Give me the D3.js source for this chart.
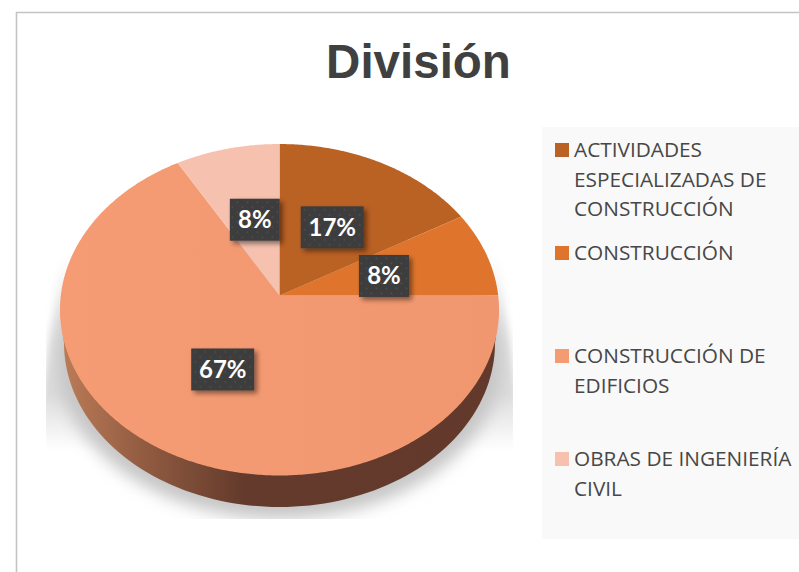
<!DOCTYPE html>
<html><head><meta charset="utf-8">
<script src="https://cdn.jsdelivr.net/npm/d3@7"></script>
<style>html,body{margin:0;padding:0;background:#fff}svg{display:block}</style>
</head><body><div id="chart"></div>
<script>
const chartTitle = "División";
const categories = ["ACTIVIDADES ESPECIALIZADAS DE CONSTRUCCIÓN","CONSTRUCCIÓN","CONSTRUCCIÓN DE EDIFICIOS","OBRAS DE INGENIERÍA CIVIL"];
const legendLines = [["ACTIVIDADES","ESPECIALIZADAS DE","CONSTRUCCIÓN"],["CONSTRUCCIÓN"],["CONSTRUCCIÓN DE","EDIFICIOS"],["OBRAS DE INGENIERÍA","CIVIL"]];
const values = [2,1,8,1];
const colors = ["#BA6124","#DF752D","#F49B72","#F6C2AF"];

const W=799,H=572;
const svg=d3.select("#chart").append("svg").attr("width",W).attr("height",H);
const defs=svg.append("defs");
const labelNudge=[[0,0.5],[0,1.5],[0,0],[2.5,0.5]];

// perspective disc
const apex={x:279.5,y:295.5}, k=0.086, sx=218.7, sy=164.5;
const project=(r,a)=>{const u=r*Math.sin(a),v=-r*Math.cos(a),w=1-k*v;return [apex.x+sx*u/w,apex.y+sy*v/w];};
const pie=d3.pie().value(d=>d).sort(null);
const arcs=pie(values);
const centroid=d3.arc().innerRadius(0).outerRadius(1);
const line=d3.line();
const fmt=d3.format(".0%");
const total=d3.sum(values);

// frame
svg.append("path").attr("d",`M${W},12.5H16.5V${H}`).attr("fill","none").attr("stroke","#c4c4c4").attr("stroke-width",1.6);

// title
svg.append("text").attr("x",418.5).attr("y",78).attr("text-anchor","middle")
 .attr("font-family","Liberation Sans").attr("font-weight",700).attr("font-size",47.5).attr("fill","#404040").text(chartTitle);

// legend panel
svg.append("rect").attr("x",542).attr("y",127).attr("width",W-542).attr("height",412).attr("fill","#f9f9f9");
const legendY=d3.scalePoint().domain(categories).range([150,459]);
const lg=svg.selectAll("g.lg").data(categories).join("g").attr("class","lg").attr("transform",d=>`translate(555,${legendY(d)})`);
lg.append("rect").attr("y",-7).attr("width",14).attr("height",14).attr("fill",(d,i)=>colors[i]);
lg.each(function(d,i){
  d3.select(this).selectAll("text").data(legendLines[i]).join("text")
   .attr("x",19).attr("y",(t,j)=>7+j*29.7)
   .attr("font-family","Open Sans").attr("font-size",20.8).attr("fill","#474747").text(t=>t);
});

// shadow
const blurF=defs.append("filter").attr("id","blur").attr("x","-20%").attr("y","-20%").attr("width","140%").attr("height","140%");
blurF.append("feGaussianBlur").attr("stdDeviation",8);
const blurS=defs.append("filter").attr("id","blurS").attr("x","-20%").attr("y","-20%").attr("width","140%").attr("height","140%");
blurS.append("feGaussianBlur").attr("stdDeviation",3);
const wedgeGrad=defs.append("linearGradient").attr("id","wedge").attr("x1",0).attr("x2",0).attr("y1",0).attr("y2",1);
[[0,"#ffffff"],[0.45,"#e2e2e2"],[0.7,"#dadada"],[1,"#ffffff"]].forEach(s=>wedgeGrad.append("stop").attr("offset",s[0]).attr("stop-color",s[1]));
defs.append("clipPath").attr("id","shClip").append("rect").attr("x",46).attr("y",240).attr("width",467).attr("height",279);
const sg=svg.append("g").attr("clip-path","url(#shClip)");
sg.append("path").attr("d",line([[60,255],[42,400],[42,450],[517,450],[517,400],[499,255]])+"Z").attr("fill","url(#wedge)").attr("filter","url(#blurS)");
const shadowPts=d3.range(0,361,3).map(d=>d*Math.PI/180).map(a=>[279.5+223*Math.cos(a),356+163*Math.sin(a)]);
sg.append("path").attr("d",line(shadowPts)+"Z").attr("fill","#c6c6c6").attr("filter","url(#blur)");

// wall
const wallGrad=defs.append("linearGradient").attr("id","wall").attr("gradientUnits","userSpaceOnUse").attr("x1",60).attr("x2",500).attr("y1",0).attr("y2",0);
[[0,"#BC7C58"],[0.2,"#8F5A40"],[0.42,"#633A2B"],[1,"#62392A"]].forEach(s=>wallGrad.append("stop").attr("offset",s[0]).attr("stop-color",s[1]));
const low={cx:279.5,cy:343,rx:215.5,ry:164};
const lowPts=d3.range(0,181,2).map(d=>d*Math.PI/180).map(a=>[low.cx+low.rx*Math.cos(a),low.cy+low.ry*Math.sin(a)]);
svg.append("path").attr("d",line([[499,310],...lowPts,[60,310]])+"Z").attr("fill","url(#wall)");

// slices
const topGrad=defs.append("linearGradient").attr("id","top2").attr("x1",0).attr("x2",1).attr("y1",0).attr("y2",0);
[[0,"#F59C74"],[1,"#F1976F"]].forEach(s=>topGrad.append("stop").attr("offset",s[0]).attr("stop-color",s[1]));
const slicePath=d=>{
  const n=Math.ceil((d.endAngle-d.startAngle)/0.01);
  const pts=d3.range(n+1).map(i=>project(1,d.startAngle+(d.endAngle-d.startAngle)*i/n));
  return line([[apex.x,apex.y],...pts])+"Z";
};
svg.selectAll("path.slice").data(arcs).join("path").attr("class","slice")
 .attr("d",slicePath).attr("fill",(d,i)=>i===2?"url(#top2)":colors[i]);

// data labels
const dot=defs.append("pattern").attr("id","dots").attr("patternUnits","userSpaceOnUse").attr("width",10).attr("height",10);
dot.append("rect").attr("width",10).attr("height",10).attr("fill","#3c3c3c");
dot.append("circle").attr("cx",2.5).attr("cy",2.5).attr("r",1).attr("fill","#4f4f4f");
dot.append("circle").attr("cx",7.5).attr("cy",7.5).attr("r",1).attr("fill","#4f4f4f");
const lblShadow=defs.append("filter").attr("id","lbl").attr("x","-30%").attr("y","-30%").attr("width","170%").attr("height","170%");
lblShadow.append("feDropShadow").attr("dx",3).attr("dy",3).attr("stdDeviation",2.5).attr("flood-color","#000").attr("flood-opacity",0.45);
const labels=svg.selectAll("g.dl").data(arcs).join("g").attr("class","dl")
 .attr("transform",(d,i)=>{
   const [cx,cy]=centroid.centroid({startAngle:d.startAngle,endAngle:d.endAngle});
   const r=Math.hypot(cx,cy),a=Math.atan2(cx,-cy);
   const p=project(r,a);return `translate(${p[0]+labelNudge[i][0]},${p[1]+labelNudge[i][1]})`;
 });
labels.each(function(d){
  const txt=fmt(d.value/total), w=txt.length===3?63:50;
  const g=d3.select(this);
  g.append("rect").attr("x",-w/2).attr("y",-21).attr("width",w).attr("height",42).attr("fill","url(#dots)").attr("filter","url(#lbl)");
  g.append("text").attr("y",8.5).attr("text-anchor","middle").attr("font-family","Lato").attr("font-weight",700).attr("font-size",24).attr("fill","#fff").text(txt);
});
</script></body></html>
